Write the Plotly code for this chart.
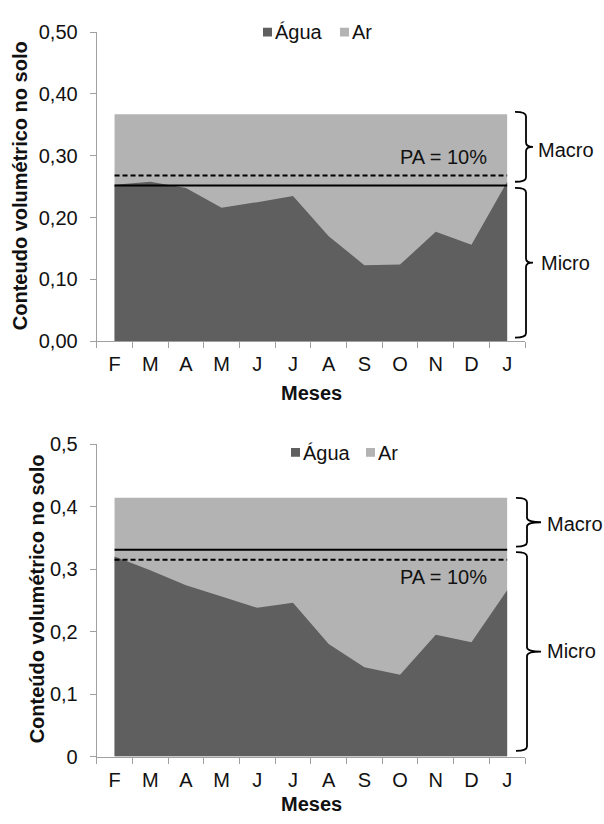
import plotly.graph_objects as go

# ---------------- data ----------------
months = ["F", "M", "A", "M", "J", "J", "A", "S", "O", "N", "D", "J"]

agua_top = [0.253, 0.258, 0.248, 0.216, 0.225, 0.235, 0.170, 0.123, 0.124, 0.177, 0.156, 0.258]
porosidade_total_top = 0.367
microporosidade_top = 0.252
pa_limite_top = 0.268

agua_bot = [0.320, 0.298, 0.274, 0.256, 0.238, 0.246, 0.180, 0.143, 0.131, 0.195, 0.183, 0.266]
porosidade_total_bot = 0.414
microporosidade_bot = 0.331
pa_limite_bot = 0.315

yticks_vals = [0.0, 0.1, 0.2, 0.3, 0.4, 0.5]
yticks_top = ["0,00", "0,10", "0,20", "0,30", "0,40", "0,50"]
yticks_bot = ["0", "0,1", "0,2", "0,3", "0,4", "0,5"]

legend_names = ["Água", "Ar"]
pa_label = "PA = 10%"
y_title_top = "Conteudo volumétrico no solo"
y_title_bot = "Conteúdo volumétrico no solo"
x_title = "Meses"

# ---------------- styling ----------------
W, H = 604, 824
FONT = "Liberation Sans, Arial, sans-serif"
DARK = "#5f5f5f"
LIGHT = "#b3b3b3"
AXIS = "#a0a0a0"
TXT = "#111111"
FS = 20


def px(p):
    return p / W


def py(p):
    return 1 - p / H


idx = list(range(len(months)))
x_dom = [px(96.7), px(525)]
top_dom = [py(339.3), py(21.7)]
bot_dom = [py(766), py(445)]

fig = go.Figure()


def add_panel(agua, total, micro, pa, xa, ya):
    fig.add_trace(go.Scatter(x=idx, y=[total] * len(idx), mode="none", fill="tozeroy",
                             fillcolor=LIGHT, showlegend=False, xaxis=xa, yaxis=ya,
                             hoverinfo="skip", name="Ar"))
    fig.add_trace(go.Scatter(x=idx, y=agua, mode="none", fill="tozeroy",
                             fillcolor=DARK, showlegend=False, xaxis=xa, yaxis=ya,
                             name="Água"))
    fig.add_trace(go.Scatter(x=[idx[0], idx[-1]], y=[micro, micro], mode="lines",
                             line=dict(color="black", width=2), showlegend=False,
                             xaxis=xa, yaxis=ya, hoverinfo="skip"))
    fig.add_trace(go.Scatter(x=[idx[0], idx[-1]], y=[pa, pa], mode="lines",
                             line=dict(color="black", width=2, dash="5px,3px"),
                             showlegend=False, xaxis=xa, yaxis=ya, hoverinfo="skip"))


add_panel(agua_top, porosidade_total_top, microporosidade_top, pa_limite_top, "x", "y")
add_panel(agua_bot, porosidade_total_bot, microporosidade_bot, pa_limite_bot, "x2", "y2")

xaxis_common = dict(
    range=[-0.5, len(months) - 0.5], tickmode="array", tickvals=idx, ticktext=months,
    ticks="", showline=True, linecolor=AXIS, linewidth=1, showgrid=False, zeroline=False,
    tickfont=dict(family=FONT, size=FS, color=TXT), ticklabelstandoff=5,
    minor=dict(tickmode="array", tickvals=[i - 0.5 for i in range(len(months) + 1)],
               ticks="outside", ticklen=6, tickcolor=AXIS, tickwidth=1, showgrid=False),
    domain=x_dom, fixedrange=True,
)
yaxis_common = dict(
    range=[0, 0.5], tickmode="array", tickvals=yticks_vals,
    ticks="outside", ticklen=6, tickcolor=AXIS, tickwidth=1,
    showline=True, linecolor=AXIS, linewidth=1, showgrid=False, zeroline=False,
    tickfont=dict(family=FONT, size=FS, color=TXT), ticklabelstandoff=8, fixedrange=True,
)

fig.update_layout(
    width=W, height=H, margin=dict(l=0, r=0, t=0, b=0),
    paper_bgcolor="white", plot_bgcolor="white", showlegend=False,
    font=dict(family=FONT, size=FS, color=TXT),
    xaxis=dict(**xaxis_common, anchor="y"),
    yaxis=dict(**yaxis_common, ticktext=yticks_top, domain=top_dom, anchor="x"),
    xaxis2=dict(**xaxis_common, anchor="y2"),
    yaxis2=dict(**yaxis_common, ticktext=yticks_bot, domain=bot_dom, anchor="x2"),
)


def brace(xl, xr, xt, yt, yb, r, yref):
    ym = (yt + yb) / 2
    p = (f"M {px(xl)},{yt} Q {px(xr)},{yt} {px(xr)},{yt - r} "
         f"L {px(xr)},{ym + r} Q {px(xr)},{ym} {px(xt)},{ym} "
         f"Q {px(xr)},{ym} {px(xr)},{ym - r} "
         f"L {px(xr)},{yb + r} Q {px(xr)},{yb} {px(xl)},{yb}")
    return dict(type="path", path=p, xref="paper", yref=yref,
                line=dict(color="black", width=1.8))


shapes = []
# top chart braces
shapes.append(brace(515, 526, 533, porosidade_total_top + 0.004, microporosidade_top + 0.006, 0.007, "y"))
shapes.append(brace(515, 526, 533, microporosidade_top - 0.004, 0.006, 0.007, "y"))
# bottom chart braces
shapes.append(brace(516, 527, 541, porosidade_total_bot, microporosidade_bot + 0.005, 0.007, "y2"))
shapes.append(brace(516, 527, 541, microporosidade_bot - 0.004, 0.009, 0.007, "y2"))

# manual legends (squares)
for (s1, s2, yc) in [((263, 272), (340, 349), 21.7), ((291, 300), (366, 375), 453.5)]:
    for (a, b), col in zip([s1, s2], [DARK, LIGHT]):
        shapes.append(dict(type="rect", xref="paper", yref="paper",
                           x0=px(a), x1=px(b), y0=py(yc + 4.5), y1=py(yc - 4.5),
                           fillcolor=col, line=dict(width=0)))

annotations = []


def txt(text, x, y, xanchor="left", yanchor="middle", yref="paper", bold=False,
        angle=0, size=FS):
    annotations.append(dict(text=f"<b>{text}</b>" if bold else text, x=px(x), y=y,
                            xref="paper", yref=yref, xanchor=xanchor, yanchor=yanchor,
                            showarrow=False, textangle=angle,
                            font=dict(family=FONT, size=size, color=TXT)))


# legend texts
txt(legend_names[0], 273, py(22))
txt(legend_names[1], 350, py(22))
txt(legend_names[0], 301, py(454))
txt(legend_names[1], 376, py(454))
# PA labels
txt(pa_label, 443, 0.298, xanchor="center", yref="y")
txt(pa_label, 443, 0.287, xanchor="center", yref="y2")
# Macro / Micro
txt("Macro", 536, 0.309, yref="y")
txt("Micro", 539, 0.127, yref="y")
txt("Macro", 545, 0.372, yref="y2")
txt("Micro", 545, 0.169, yref="y2")
# axis titles
txt(y_title_top, 20, py(180), xanchor="center", bold=True, angle=-90)
txt(y_title_bot, 36.5, py(604), xanchor="center", bold=True, angle=-90)
txt(x_title, 311, py(392), xanchor="center", bold=True)
txt(x_title, 311, py(815), xanchor="center", bold=True)

fig.update_layout(shapes=shapes, annotations=annotations)

fig.write_html("out.html", post_script="document.body.style.margin='0';",
               config={"displayModeBar": False})
